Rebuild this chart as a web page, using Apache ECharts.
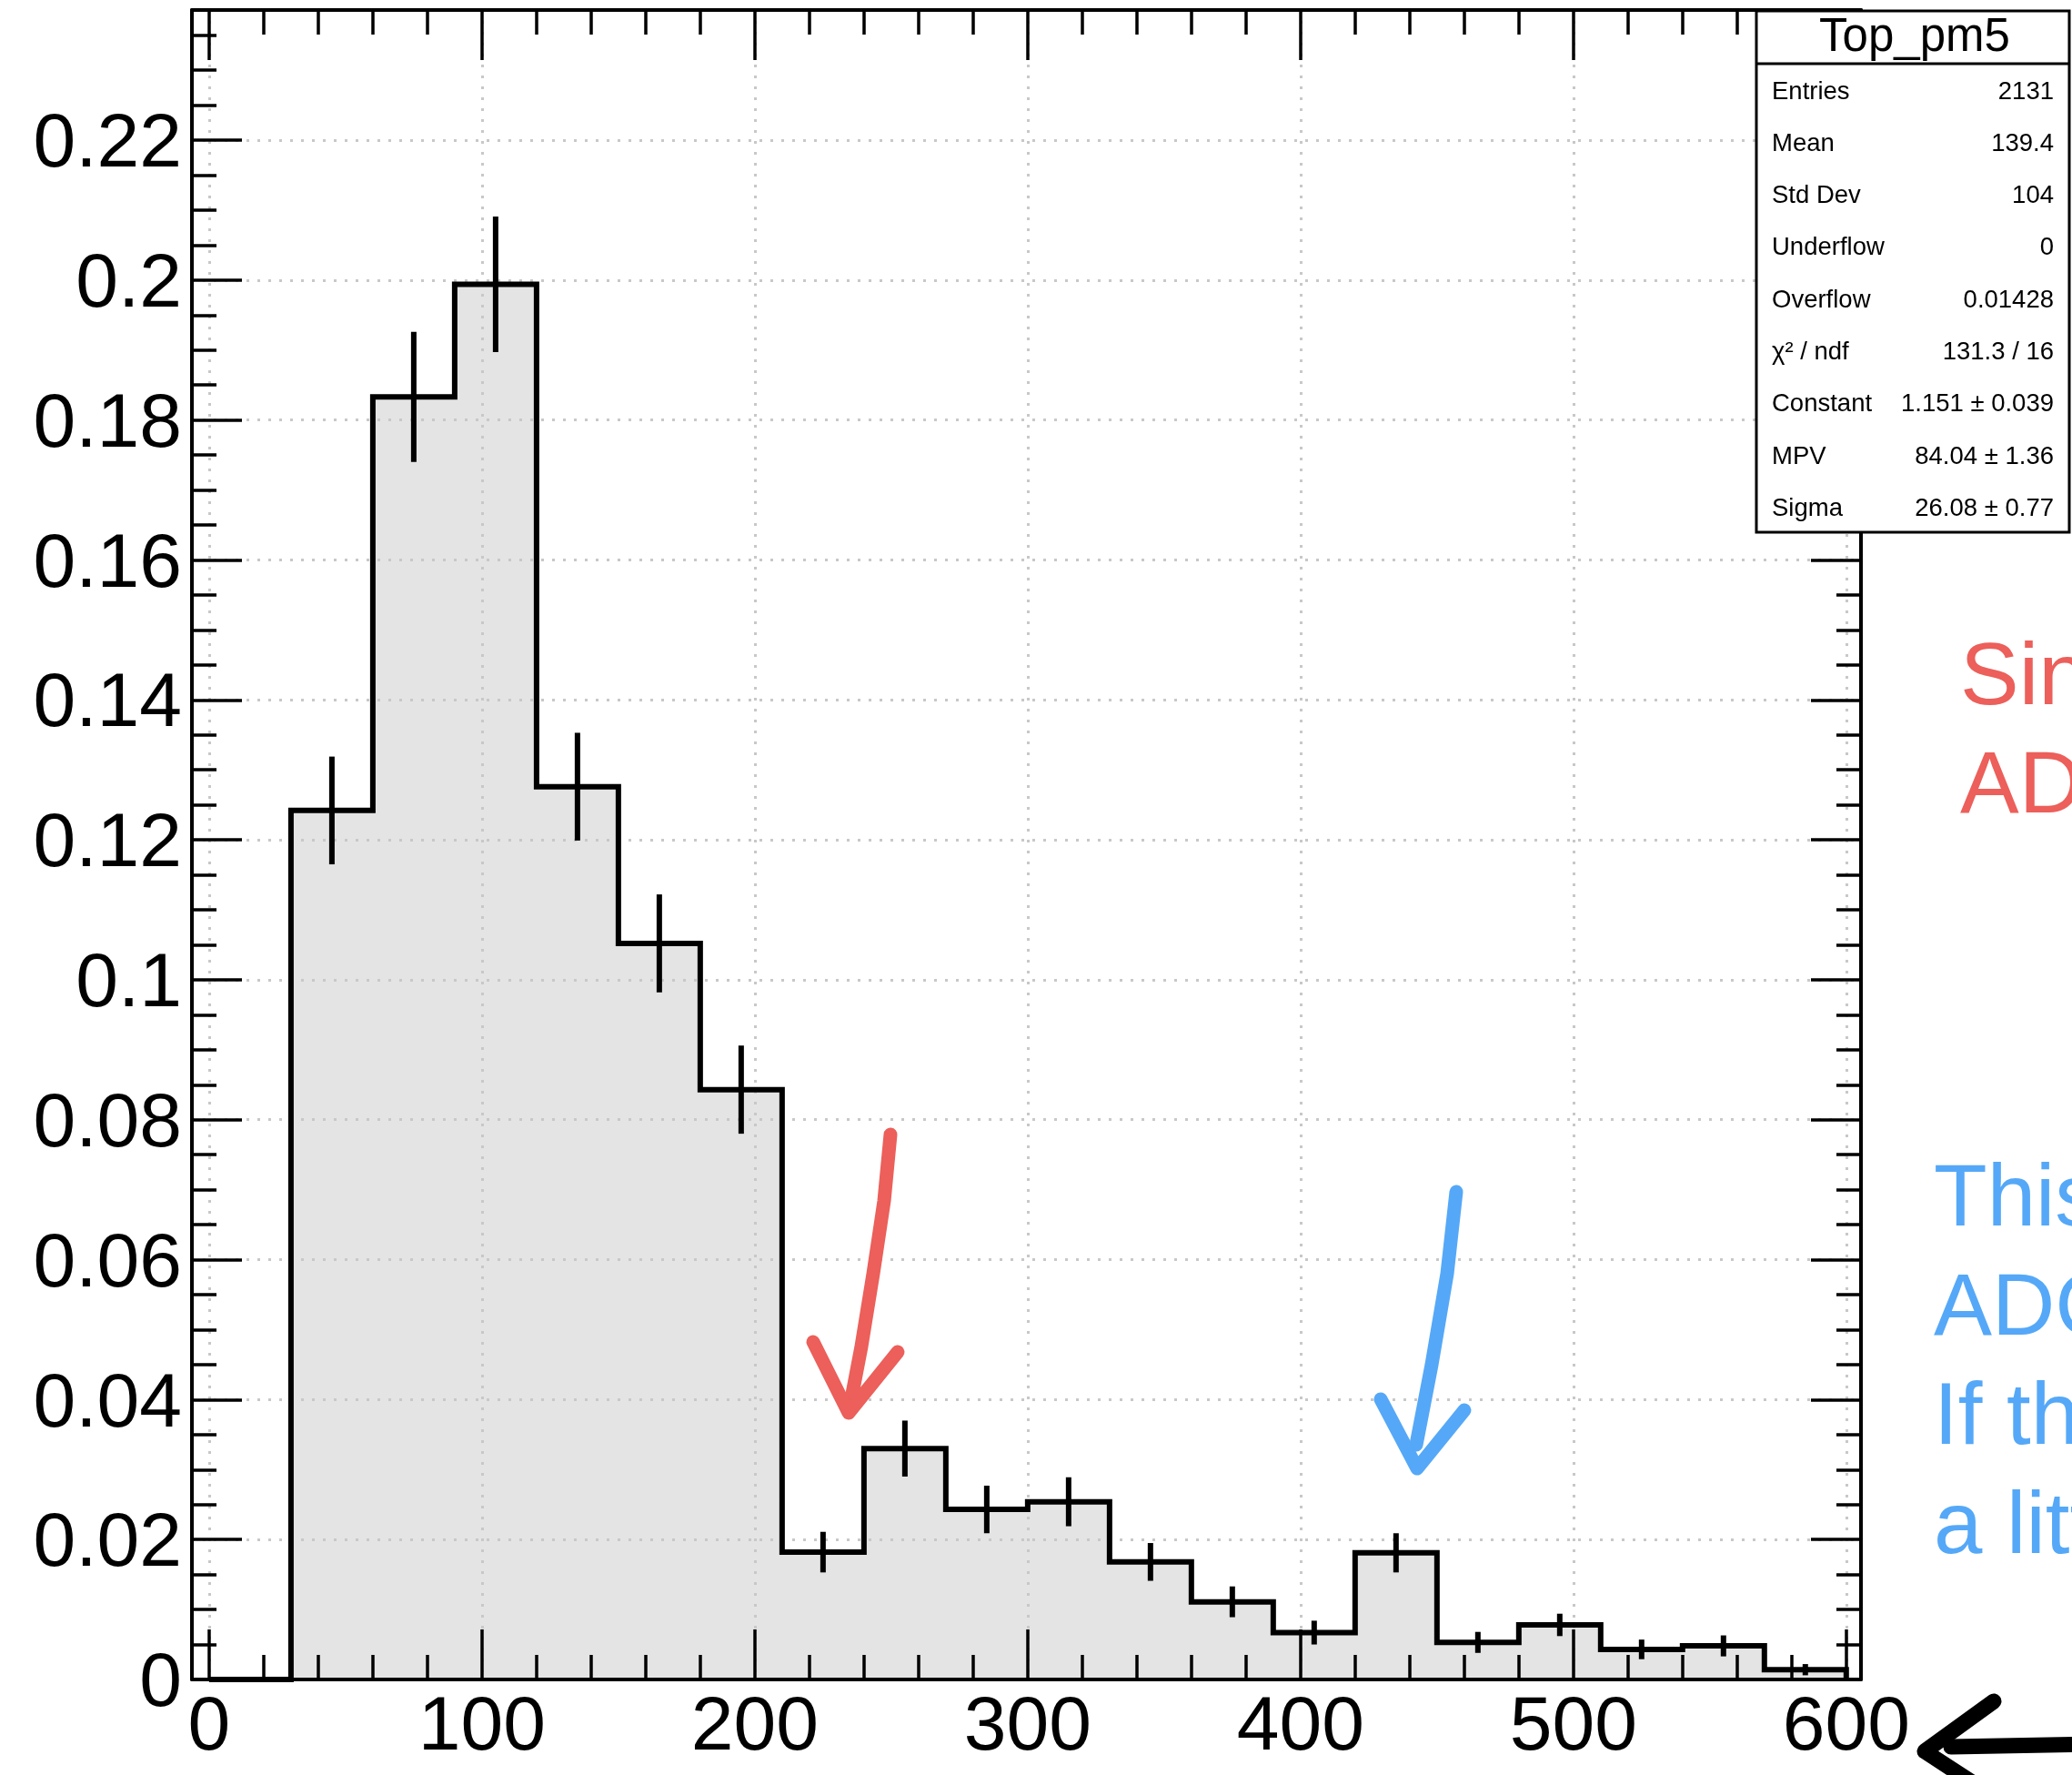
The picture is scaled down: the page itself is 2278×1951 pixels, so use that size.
<!DOCTYPE html>
<html>
<head>
<meta charset="utf-8">
<title>Top_pm5</title>
<script src="https://cdn.jsdelivr.net/npm/echarts@6.0.0/dist/echarts.min.js"></script>
<style>
  html, body { margin: 0; padding: 0; background: #fff; }
  #main { width: 2278px; height: 1951px; }
</style>
</head>
<body>
<div id="main"></div>
<script>
// histogram: lower bin edges, contents and errors
const binLow = [0, 30, 60, 90, 120, 150, 180, 210, 240, 270, 300, 330, 360, 390, 420, 450, 480, 510, 540, 570];
const binWidth = 30;
const binValues = [0, 0.1242, 0.1833, 0.1994, 0.1276, 0.1052, 0.0843, 0.0182, 0.0330, 0.0243,
  0.0254, 0.0168, 0.0111, 0.0067, 0.0181, 0.0053, 0.0078, 0.0043, 0.0048, 0.0014];
const binErrors = [0, 0.0077, 0.0093, 0.0097, 0.0077, 0.0070, 0.0063, 0.0029, 0.0040, 0.0034,
  0.0035, 0.0027, 0.0022, 0.0017, 0.0028, 0.0015, 0.0016, 0.0014, 0.0015, 0.0008];

// axis ticks
const xMajor = [0, 100, 200, 300, 400, 500, 600];
const xMinor = [20, 40, 60, 80, 120, 140, 160, 180, 220, 240, 260, 280, 320, 340, 360, 380,
  420, 440, 460, 480, 520, 540, 560, 580];
const yMajor = [0, 0.02, 0.04, 0.06, 0.08, 0.1, 0.12, 0.14, 0.16, 0.18, 0.2, 0.22];
const yMinor = [0.005, 0.01, 0.015, 0.025, 0.03, 0.035, 0.045, 0.05, 0.055, 0.065, 0.07, 0.075,
  0.085, 0.09, 0.095, 0.105, 0.11, 0.115, 0.125, 0.13, 0.135, 0.145, 0.15, 0.155, 0.165, 0.17,
  0.175, 0.185, 0.19, 0.195, 0.205, 0.21, 0.215, 0.225, 0.23, 0.235];

// stats box
const statTitle = 'Top_pm5';
const statNames = ['Entries', 'Mean', 'Std Dev', 'Underflow', 'Overflow', 'χ² / ndf', 'Constant', 'MPV', 'Sigma'];
const statValues = ['2131', '139.4', '104', '0', '0.01428', '131.3 / 16', '1.151 ± 0.039', '84.04 ± 1.36', '26.08 ± 0.77'];

// side notes (cut off at the right edge of the picture)
const redNote = ['Single', 'ADC'];
const blueNote = ['This', 'ADC', 'If the', 'a little'];

const X_MIN = -6.3, X_MAX = 605.4;
const Y_MIN = 0, Y_MAX = 0.2386;
const FONT = '"Liberation Sans", Arial, Helvetica, sans-serif';
const RED = '#ec5f5a', BLUE = '#55a8f7';

// step outline of the histogram
let stepData = binLow.map((x, i) => [x, binValues[i]]);
stepData.push([binLow[binLow.length - 1] + binWidth, 0]);
let errData = binLow.map((x, i) => [x + binWidth / 2, binValues[i], binErrors[i]]).filter(d => d[2] > 0);

let gridLine = { show: true, lineStyle: { color: '#c8c8c8', width: 3, type: [3, 9] } };

function xAxisModel(pos, ticks, len, withLine, withLabel) {
  return {
    type: 'value', position: pos, min: X_MIN, max: X_MAX, z: 3,
    axisLine: { show: withLine, onZero: false, lineStyle: { color: '#000', width: 4 } },
    axisTick: { show: true, inside: true, length: len, customValues: ticks, lineStyle: { color: '#000', width: 3.5 } },
    axisLabel: withLabel ? {
      show: true, customValues: ticks, color: '#000', fontSize: 84, fontFamily: FONT, margin: 12
    } : { show: false },
    splitLine: withLabel ? gridLine : { show: false }
  };
}
function yAxisModel(pos, ticks, len, withLine, withLabel) {
  return {
    type: 'value', position: pos, min: Y_MIN, max: Y_MAX, z: 3,
    axisLine: { show: withLine, onZero: false, lineStyle: { color: '#000', width: 4 } },
    axisTick: { show: true, inside: true, length: len, customValues: ticks, lineStyle: { color: '#000', width: 3.5 } },
    axisLabel: withLabel ? {
      show: true, customValues: ticks, margin: 11,
      formatter: v => '{t|' + String(+(+v).toFixed(3)) + '}',
      rich: { t: { color: '#000', fontSize: 84, fontFamily: FONT, padding: [12, 0, 0, 0] } }
    } : { show: false },
    splitLine: withLabel ? gridLine : { show: false }
  };
}

// stats box graphic
const BOX = { x: 1931, y: 12, w: 344, h: 573, sep: 70, row0: 101, rowStep: 57.3 };
let statsGraphic = [
  { type: 'rect', shape: { x: BOX.x, y: BOX.y, width: BOX.w, height: BOX.h },
    style: { fill: '#fff', stroke: '#000', lineWidth: 3 }, z: 100 },
  { type: 'line', shape: { x1: BOX.x, y1: BOX.sep, x2: BOX.x + BOX.w, y2: BOX.sep },
    style: { stroke: '#000', lineWidth: 3 }, z: 101 },
  { type: 'text', x: BOX.x + BOX.w / 2 + 2, y: 42, z: 101,
    style: { text: statTitle, font: '51px ' + FONT, fill: '#000', textAlign: 'center', textVerticalAlign: 'middle' } }
];
statNames.forEach((name, i) => {
  let y = BOX.row0 + i * BOX.rowStep;
  statsGraphic.push({ type: 'text', x: 1948, y: y, z: 101,
    style: { text: name, font: '27.5px ' + FONT, fill: '#000', textAlign: 'left', textVerticalAlign: 'middle' } });
  statsGraphic.push({ type: 'text', x: 2258, y: y, z: 101,
    style: { text: statValues[i], font: '27.5px ' + FONT, fill: '#000', textAlign: 'right', textVerticalAlign: 'middle' } });
});

// notes on the right
let noteGraphic = [];
redNote.forEach((t, i) => {
  noteGraphic.push({ type: 'text', x: 2155, y: 747 + i * 119, z: 50,
    style: { text: t, font: '97px ' + FONT, fill: RED, textAlign: 'left', textVerticalAlign: 'middle' } });
});
blueNote.forEach((t, i) => {
  noteGraphic.push({ type: 'text', x: 2126, y: 1321 + i * 120, z: 50,
    style: { text: t, font: '96px ' + FONT, fill: BLUE, textAlign: 'left', textVerticalAlign: 'middle' } });
});

// hand drawn arrows
function arrow(color, shaft, head, width) {
  return [
    { type: 'polyline', z: 60, shape: { points: shaft },
      style: { stroke: color, lineWidth: width, fill: null, lineCap: 'round', lineJoin: 'round' } },
    { type: 'polyline', z: 60, shape: { points: head },
      style: { stroke: color, lineWidth: width, fill: null, lineCap: 'round', lineJoin: 'round' } }
  ];
}
let arrowGraphic = [].concat(
  arrow(RED, [[979, 1247], [972, 1320], [960, 1400], [947, 1480], [934, 1548]],
    [[894, 1475], [933, 1553], [987, 1486]], 15),
  arrow(BLUE, [[1601, 1310], [1591, 1400], [1574, 1500], [1557, 1588]],
    [[1518, 1538], [1558, 1614], [1610, 1550]], 15),
  arrow('#000', [[2145, 1920], [2300, 1917]], [[2192, 1870], [2116, 1925], [2182, 1968]], 17)
);

const chart = echarts.init(document.getElementById('main'), null, { renderer: 'canvas' });
chart.setOption({
  animation: false,
  backgroundColor: '#fff',
  grid: { left: 211, right: 2278 - 2046, top: 11, bottom: 105, show: false },
  xAxis: [
    xAxisModel('bottom', xMajor, 55, true, true),
    xAxisModel('bottom', xMinor, 27, false, false),
    xAxisModel('top', xMajor, 55, true, false),
    xAxisModel('top', xMinor, 27, false, false)
  ],
  yAxis: [
    yAxisModel('left', yMajor, 55, true, true),
    yAxisModel('left', yMinor, 27, false, false),
    yAxisModel('right', yMajor, 55, true, false),
    yAxisModel('right', yMinor, 27, false, false)
  ],
  series: [
    {
      // grey fill under the histogram
      type: 'line', xAxisIndex: 0, yAxisIndex: 0, z: 1,
      step: 'end', symbol: 'none', data: stepData,
      lineStyle: { width: 0, opacity: 0 },
      areaStyle: { color: '#e4e4e4', opacity: 1 }
    },
    {
      // histogram outline
      type: 'line', xAxisIndex: 0, yAxisIndex: 0, z: 5,
      step: 'end', symbol: 'none', data: stepData,
      lineStyle: { color: '#000', width: 6, cap: 'butt', join: 'miter' }
    },
    {
      // error bars
      type: 'custom', xAxisIndex: 0, yAxisIndex: 0, z: 6,
      data: errData,
      renderItem: function (params, api) {
        let x = api.value(0), v = api.value(1), e = api.value(2);
        let lo = api.coord([x, v - e]);
        let hi = api.coord([x, v + e]);
        return {
          type: 'line',
          shape: { x1: lo[0], y1: lo[1], x2: hi[0], y2: hi[1] },
          style: { stroke: '#000', lineWidth: 6 }
        };
      }
    }
  ],
  graphic: { elements: [].concat(noteGraphic, arrowGraphic, statsGraphic) }
});
</script>
</body>
</html>
